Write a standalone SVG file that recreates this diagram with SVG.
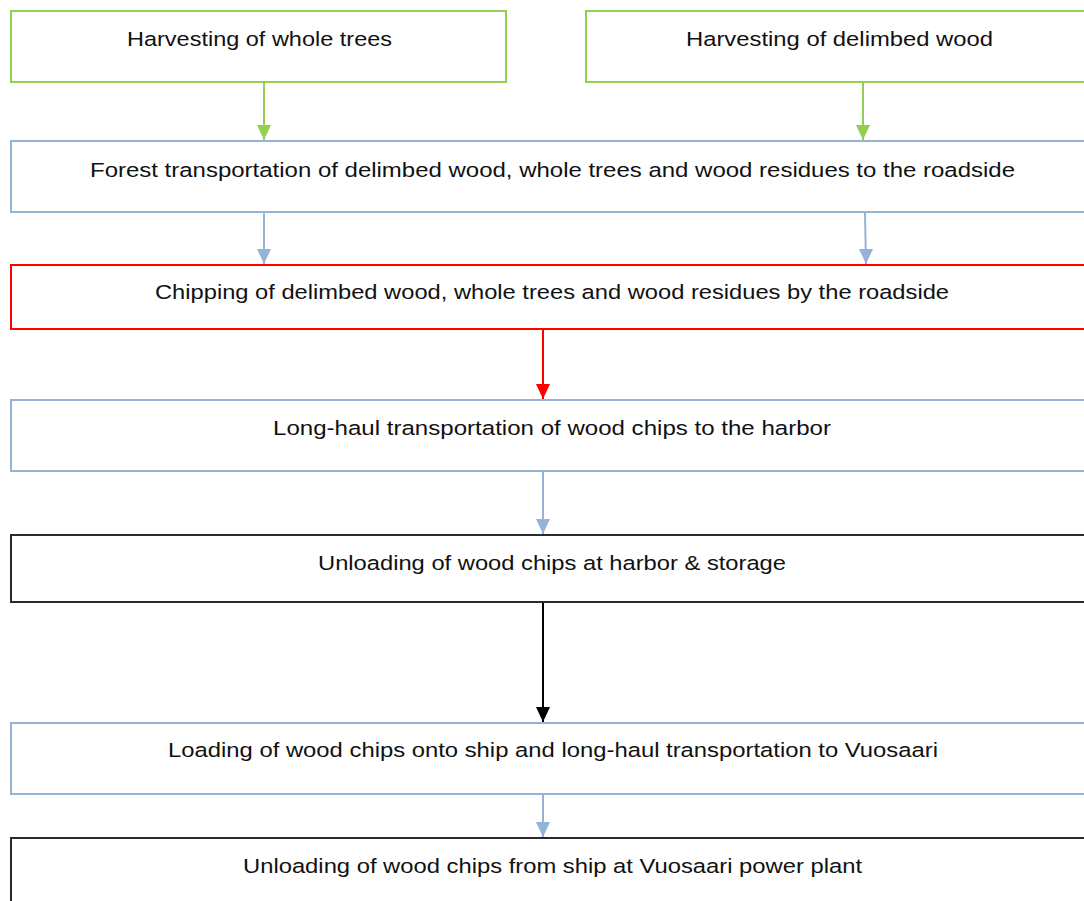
<svg xmlns="http://www.w3.org/2000/svg" width="1084" height="901" viewBox="0 0 1084 901">
  <defs>
    <style>
      .box { fill: #ffffff; stroke-width: 2; }
      .green { stroke: #92D050; }
      .blue { stroke: #95B3D7; }
      .red { stroke: #FF0000; }
      .black { stroke: #2b2b2b; }
      .lbl { font-family: "Liberation Sans", Arial, sans-serif; font-size: 20.5px; fill: #111111; text-anchor: middle; }
      .conn { fill: none; stroke-width: 2; }
    </style>
    <marker id="ah-green" viewBox="0 0 14 15" refX="7" refY="15" markerWidth="14" markerHeight="15" markerUnits="userSpaceOnUse">
      <path d="M0,0 L14,0 L7,15 Z" fill="#92D050"/>
    </marker>
    <marker id="ah-blue" viewBox="0 0 14 15" refX="7" refY="15" markerWidth="14" markerHeight="15" markerUnits="userSpaceOnUse">
      <path d="M0,0 L14,0 L7,15 Z" fill="#95B3D7"/>
    </marker>
    <marker id="ah-red" viewBox="0 0 14 15" refX="7" refY="15" markerWidth="14" markerHeight="15" markerUnits="userSpaceOnUse">
      <path d="M0,0 L14,0 L7,15 Z" fill="#FF0000"/>
    </marker>
    <marker id="ah-black" viewBox="0 0 14 15" refX="7" refY="15" markerWidth="14" markerHeight="15" markerUnits="userSpaceOnUse">
      <path d="M0,0 L14,0 L7,15 Z" fill="#000000"/>
    </marker>
  </defs>

  <rect width="1084" height="901" fill="#ffffff"/>

  <!-- process steps -->
  <g id="harvest-whole">
    <rect class="box green" x="11" y="11" width="495" height="71"/>
    <text class="lbl" x="259.5" y="46" textLength="265" lengthAdjust="spacingAndGlyphs">Harvesting of whole trees</text>
  </g>
  <g id="harvest-delimbed">
    <rect class="box green" x="586" y="11" width="507" height="71"/>
    <text class="lbl" x="839.5" y="46" textLength="307" lengthAdjust="spacingAndGlyphs">Harvesting of delimbed wood</text>
  </g>
  <g id="forest-transport">
    <rect class="box blue" x="11" y="141" width="1082" height="71"/>
    <text class="lbl" x="552.5" y="177" textLength="925" lengthAdjust="spacingAndGlyphs">Forest transportation of delimbed wood, whole trees and wood residues to the roadside</text>
  </g>
  <g id="chipping">
    <rect class="box red" x="11" y="265" width="1082" height="64"/>
    <text class="lbl" x="552" y="299" textLength="794" lengthAdjust="spacingAndGlyphs">Chipping of delimbed wood, whole trees and wood residues by the roadside</text>
  </g>
  <g id="longhaul-harbor">
    <rect class="box blue" x="11" y="400" width="1082" height="71"/>
    <text class="lbl" x="552" y="435" textLength="558" lengthAdjust="spacingAndGlyphs">Long-haul transportation of wood chips to the harbor</text>
  </g>
  <g id="unload-harbor">
    <rect class="box black" x="11" y="535" width="1082" height="67"/>
    <text class="lbl" x="552" y="570" textLength="468" lengthAdjust="spacingAndGlyphs">Unloading of wood chips at harbor &amp; storage</text>
  </g>
  <g id="ship-transport">
    <rect class="box blue" x="11" y="723" width="1082" height="71"/>
    <text class="lbl" x="553" y="757" textLength="770" lengthAdjust="spacingAndGlyphs">Loading of wood chips onto ship and long-haul transportation to Vuosaari</text>
  </g>
  <g id="unload-plant">
    <rect class="box black" x="11" y="838" width="1082" height="80"/>
    <text class="lbl" x="552.5" y="873" textLength="619" lengthAdjust="spacingAndGlyphs">Unloading of wood chips from ship at Vuosaari power plant</text>
  </g>

  <!-- connectors -->
  <g id="connectors">
    <line class="conn" x1="264" y1="83" x2="264" y2="140" stroke="#92D050" marker-end="url(#ah-green)"/>
    <line class="conn" x1="863" y1="83" x2="863" y2="140" stroke="#92D050" marker-end="url(#ah-green)"/>
    <line class="conn" x1="264" y1="213" x2="264" y2="264" stroke="#95B3D7" marker-end="url(#ah-blue)"/>
    <line class="conn" x1="865" y1="213" x2="866" y2="264" stroke="#95B3D7" marker-end="url(#ah-blue)"/>
    <line class="conn" x1="543" y1="330" x2="543" y2="399" stroke="#FF0000" marker-end="url(#ah-red)"/>
    <line class="conn" x1="543" y1="472" x2="543" y2="534" stroke="#95B3D7" marker-end="url(#ah-blue)"/>
    <line class="conn" x1="543" y1="603" x2="543" y2="722" stroke="#000000" marker-end="url(#ah-black)"/>
    <line class="conn" x1="543" y1="795" x2="543" y2="837" stroke="#95B3D7" marker-end="url(#ah-blue)"/>
  </g>
</svg>
